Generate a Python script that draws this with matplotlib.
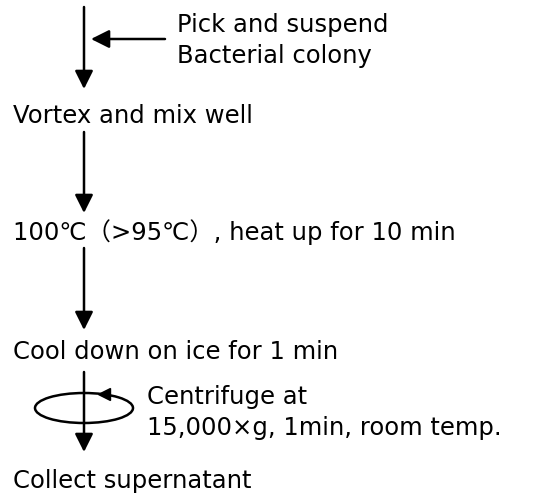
import matplotlib.pyplot as plt
from matplotlib.patches import Ellipse

plt.rcParams['font.family'] = ['DejaVu Sans', 'Noto Sans CJK JP']

# protocol steps (top to bottom) and side notes
steps = ['Vortex and mix well',
         '100℃（>95℃）, heat up for 10 min',
         'Cool down on ice for 1 min',
         'Collect supernatant']
pick_note = ['Pick and suspend', 'Bacterial colony']
spin_note = ['Centrifuge at', '15,000×g, 1min, room temp.']

# layout in pixel units of the 535x493 image
W, H = 535, 493
x_line = 84
x_text = 13
step_y = [116, 232, 352, 481]
arrow_spans = [(7, 89), (132, 213), (248, 330), (372, 452)]
fs = 17.5


def arrow(ax, start, end):
    ax.annotate('', xy=end, xytext=start,
                arrowprops=dict(arrowstyle='-|>,head_length=1.1,head_width=0.55',
                                lw=1.8, color='k', mutation_scale=10,
                                shrinkA=0, shrinkB=0))


def main():
    fig = plt.figure(figsize=(W / 100, H / 100), dpi=100)
    ax = fig.add_axes([0, 0, 1, 1])
    ax.set_xlim(0, W)
    ax.set_ylim(H, 0)
    ax.axis('off')

    for y0, y1 in arrow_spans:
        arrow(ax, (x_line, y0), (x_line, y1))

    for label, y in zip(steps, step_y):
        ax.text(x_text, y, label, fontsize=fs, va='center', ha='left')

    # side input arrow
    arrow(ax, (165, 39), (91, 39))
    ax.text(177, 25, pick_note[0], fontsize=fs, va='center', ha='left')
    ax.text(177, 56, pick_note[1], fontsize=fs, va='center', ha='left')

    # centrifuge rotation symbol
    ax.add_patch(Ellipse((x_line, 408), 98, 30, fill=False, lw=1.8, ec='k'))
    ax.plot([104], [393.5], marker='<', ms=9, color='k', mec='k')
    ax.text(147, 397, spin_note[0], fontsize=fs, va='center', ha='left')
    ax.text(147, 428, spin_note[1], fontsize=fs, va='center', ha='left')

    fig.savefig('out.png', dpi=100)


if __name__ == '__main__':
    main()
